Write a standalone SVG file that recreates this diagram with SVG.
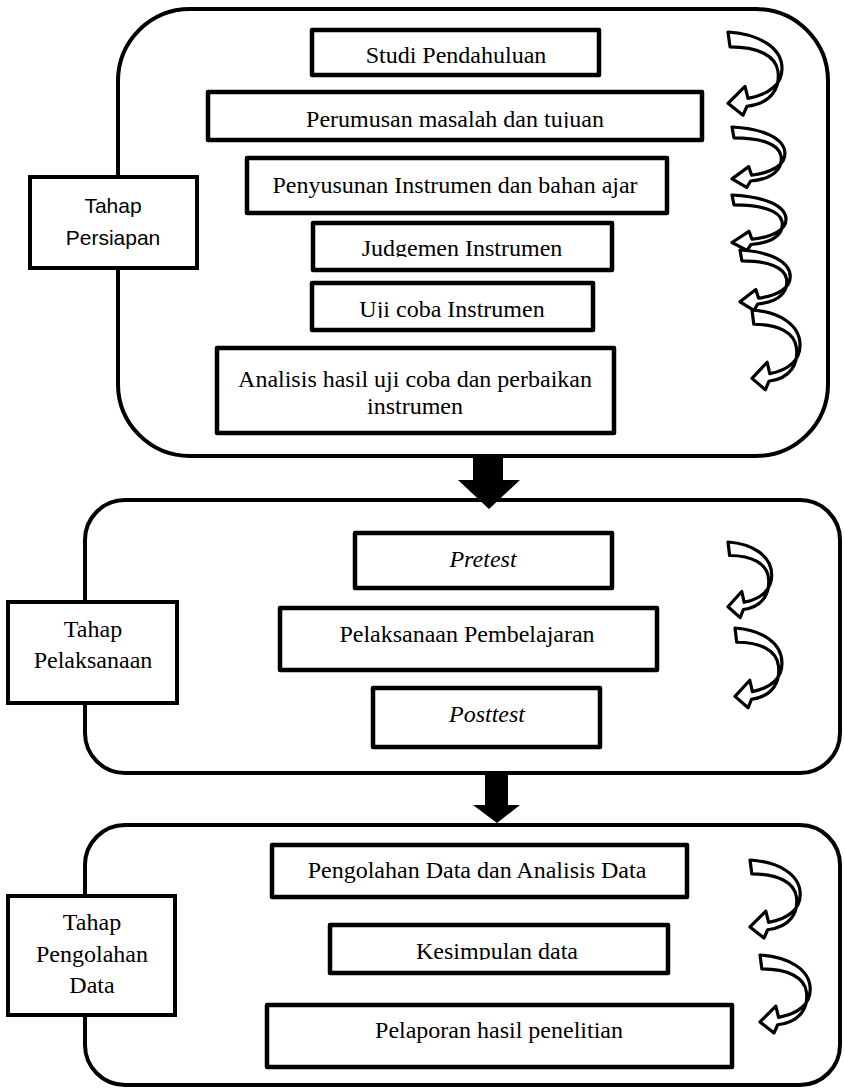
<svg xmlns="http://www.w3.org/2000/svg" xmlns:xlink="http://www.w3.org/1999/xlink" width="845" height="1088" viewBox="0 0 845 1088">
<style>
.cont{fill:#fff;stroke:#000;stroke-width:4}
.box{fill:#fff;stroke:#000;stroke-width:4.5;stroke-linejoin:round}
.tbox{fill:#fff;stroke:#000;stroke-width:4}
.t{font-family:"Liberation Serif","Times New Roman",serif;font-size:24px;fill:#000;text-anchor:middle}
.ti{font-style:italic}
.s{font-family:"Liberation Sans",Arial,sans-serif;font-size:21px;fill:#000;text-anchor:middle}
.ca{fill:#fff;stroke:#000;stroke-width:3.2;stroke-linejoin:round}
</style>
<defs>
<path id="curv" class="ca" vector-effect="non-scaling-stroke" d="M0,0 C30,2 54,15 54,37 C54,52 42,63 20,67 L17,55 L0,72 L15,84 L19,75 C44,72 52,56 50,40 C48,24 30,15 2,15 Z"/>
<clipPath id="c1"><rect x="200" y="90" width="510" height="38"/></clipPath>
<clipPath id="c2"><rect x="300" y="220" width="320" height="37"/></clipPath>
<clipPath id="c3"><rect x="300" y="280" width="300" height="38"/></clipPath>
<clipPath id="c4"><rect x="320" y="920" width="360" height="40"/></clipPath>
</defs>

<g id="stage-persiapan">
<rect class="cont" x="118" y="9" width="710" height="447" rx="72" ry="72"/>
<g id="tahap-persiapan"><rect class="tbox" x="30" y="177" width="167" height="91"/>
<text class="s" x="113" y="213">Tahap</text><text class="s" x="113" y="245">Persiapan</text></g>
<g id="studi"><rect class="box" x="312" y="30" width="287" height="45"/><text class="t" x="456" y="63">Studi Pendahuluan</text></g>
<g id="perumusan"><rect class="box" x="208" y="92" width="494" height="48"/><text class="t" x="455" y="127" clip-path="url(#c1)">Perumusan masalah dan tujuan</text></g>
<g id="penyusunan"><rect class="box" x="247" y="158" width="420" height="55"/><text class="t" x="455" y="193">Penyusunan Instrumen dan bahan ajar</text></g>
<g id="judgemen"><rect class="box" x="313" y="223" width="299" height="47"/><text class="t" x="462" y="256" clip-path="url(#c2)">Judgemen Instrumen</text></g>
<g id="uji"><rect class="box" x="312" y="283" width="281" height="47"/><text class="t" x="452" y="317" clip-path="url(#c3)">Uji coba Instrumen</text></g>
<g id="analisis"><rect class="box" x="217" y="348" width="397" height="85"/><text class="t" x="415" y="387">Analisis hasil uji coba dan perbaikan</text><text class="t" x="415" y="414">instrumen</text></g>
</g>

<g id="stage-pelaksanaan">
<rect class="cont" x="85" y="500" width="755" height="273" rx="40" ry="40"/>
<g id="tahap-pelaksanaan"><rect class="tbox" x="8" y="602" width="169" height="101"/>
<text class="t" x="93" y="637">Tahap</text><text class="t" x="93" y="668">Pelaksanaan</text></g>
<g id="pretest"><rect class="box" x="355" y="533" width="257" height="55"/><text class="t ti" x="483" y="567">Pretest</text></g>
<g id="pembelajaran"><rect class="box" x="280" y="608" width="377" height="62"/><text class="t" x="467" y="642">Pelaksanaan Pembelajaran</text></g>
<g id="posttest"><rect class="box" x="373" y="688" width="227" height="59"/><text class="t ti" x="487" y="722">Posttest</text></g>
</g>

<g id="stage-pengolahan">
<rect class="cont" x="85" y="825" width="755" height="260" rx="40" ry="40"/>
<g id="tahap-pengolahan"><rect class="tbox" x="8" y="896" width="167" height="119"/>
<text class="t" x="92" y="930">Tahap</text><text class="t" x="92" y="962">Pengolahan</text><text class="t" x="92" y="993">Data</text></g>
<g id="pengolahan-data"><rect class="box" x="272" y="845" width="415" height="52"/><text class="t" x="477" y="878">Pengolahan Data dan Analisis Data</text></g>
<g id="kesimpulan"><rect class="box" x="330" y="925" width="338" height="48"/><text class="t" x="497" y="959" clip-path="url(#c4)">Kesimpulan data</text></g>
<g id="pelaporan"><rect class="box" x="267" y="1005" width="465" height="62"/><text class="t" x="499" y="1038">Pelaporan hasil penelitian</text></g>
</g>

<g id="connectors">
<polygon fill="#000" points="473,456 503,456 503,480 520,480 489,509 458,480 473,480"/>
<polygon fill="#000" points="485,773 508,773 508,805 520,805 497,823 473,805 485,805"/>
<use href="#curv" transform="translate(728,32) scale(1,0.99)"/>
<use href="#curv" transform="translate(732,127) scale(0.98,0.72)"/>
<use href="#curv" transform="translate(732,195) scale(1,0.66)"/>
<use href="#curv" transform="translate(740,250) scale(0.93,0.72)"/>
<use href="#curv" transform="translate(752,310) scale(0.89,0.95)"/>
<use href="#curv" transform="translate(728,542) scale(0.81,0.9)"/>
<use href="#curv" transform="translate(735,628) scale(0.87,0.95)"/>
<use href="#curv" transform="translate(750,860) scale(0.93,0.93)"/>
<use href="#curv" transform="translate(760,955) scale(0.93,0.93)"/>
</g>
</svg>
